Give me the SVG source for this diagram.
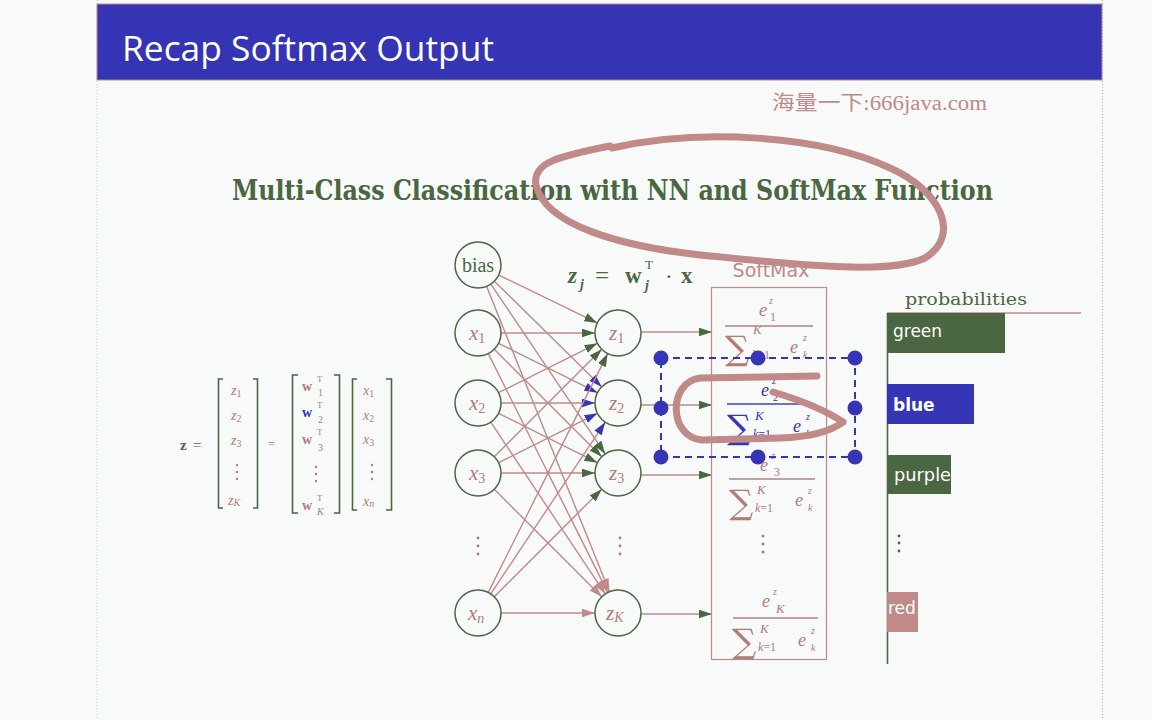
<svg xmlns="http://www.w3.org/2000/svg" width="1152" height="720" viewBox="0 0 1152 720">
  <style>
    .pk { fill: #b07c78; }
    .gr { fill: #4a6741; }
    .bl { fill: #3535b5; }
    .mi { font-family: "Liberation Serif", "DejaVu Serif", serif; font-style: italic; }
    .mr { font-family: "Liberation Serif", "DejaVu Serif", serif; }
    .sum { font-family: "DejaVu Serif", serif; font-size: 34px; }
    .node { fill: #f8f9f9; stroke: #4a6741; stroke-width: 1.5; }
    .edge { stroke: #c08a88; stroke-width: 1.4; fill: none; }
    .bar-t { font-family: "DejaVu Sans", sans-serif; font-size: 17px; fill: #ffffff; }
    .ink { fill: none; stroke: #c08a88; stroke-width: 7; stroke-linecap: round; stroke-linejoin: round; }
    .sel { fill: none; stroke: #3535b5; stroke-width: 2; stroke-dasharray: 7 5; }
    .brk { fill: none; stroke: #4a6741; stroke-width: 1.6; }
  </style>
  <defs>
    <marker id="ahG" viewBox="0 0 12 8" refX="12" refY="4" markerWidth="13" markerHeight="9" markerUnits="userSpaceOnUse" orient="auto">
      <path d="M0,0 L12,4 L0,8 z" fill="#4a6741"/>
    </marker>
    <marker id="ahB" viewBox="0 0 12 8" refX="12" refY="4" markerWidth="13" markerHeight="9" markerUnits="userSpaceOnUse" orient="auto">
      <path d="M0,0 L12,4 L0,8 z" fill="#3535b5"/>
    </marker>
    <marker id="ahP" viewBox="0 0 12 8" refX="12" refY="4" markerWidth="13" markerHeight="9" markerUnits="userSpaceOnUse" orient="auto">
      <path d="M0,0 L12,4 L0,8 z" fill="#c08a88"/>
    </marker>
    <clipPath id="redClip"><rect x="887" y="592" width="31" height="40"/></clipPath>
  </defs>

  <!-- page -->
  <rect x="0" y="0" width="1152" height="720" fill="#f8f9f9"/>
  <line x1="97" y1="0" x2="97" y2="720" stroke="#c08a88" stroke-width="1" stroke-dasharray="1 2" opacity="0.5"/>
  <line x1="1102.5" y1="0" x2="1102.5" y2="720" stroke="#c08a88" stroke-width="1" stroke-dasharray="1 2" opacity="0.7"/>

  <!-- title bar -->
  <g id="title">
    <rect x="97" y="4" width="1005" height="76" fill="#3434b4" stroke="#c08a88" stroke-width="1"/>
    <text x="122" y="61" font-family="Open Sans, DejaVu Sans, sans-serif" font-size="35" fill="#ffffff" textLength="372" lengthAdjust="spacingAndGlyphs">Recap Softmax Output</text>
  </g>

  <text id="watermark" x="772" y="110" font-family="Liberation Serif, Noto Sans CJK SC, serif" font-size="20" fill="#c08a88" textLength="215" lengthAdjust="spacingAndGlyphs">海量一下:666java.com</text>

  <text id="heading" x="232" y="200" font-family="DejaVu Serif, serif" font-weight="bold" font-size="27" fill="#4a6741" textLength="761" lengthAdjust="spacingAndGlyphs">Multi-Class Classification with NN and SoftMax Function</text>

  <!-- matrix form: z = W x -->
  <g id="matrix-eq" font-size="14">
    <text x="180" y="450" class="mr gr" font-weight="bold" font-size="15">z</text>
    <text x="193" y="450" class="mr gr" font-size="15">=</text>
    <!-- z vector -->
    <path class="brk" d="M223,379 H218.5 V508 H223 M253,379 H257.5 V508 H253"/>
    <text x="231" y="395" class="mi pk">z<tspan font-size="10" font-style="normal" dy="2">1</tspan></text>
    <text x="231" y="420" class="mi pk">z<tspan font-size="10" font-style="normal" dy="2">2</tspan></text>
    <text x="231" y="445" class="mi pk">z<tspan font-size="10" font-style="normal" dy="2">3</tspan></text>
    <g class="pk"><circle cx="237" cy="465" r="1.2"/><circle cx="237" cy="472" r="1.2"/><circle cx="237" cy="479" r="1.2"/></g>
    <text x="228" y="505" class="mi pk">z<tspan font-size="10" dy="1">K</tspan></text>
    <text x="268" y="448" class="mr pk" font-size="12">=</text>
    <!-- weight matrix -->
    <path class="brk" d="M298,375 H292.5 V513 H298 M334,375 H339.5 V513 H334"/>
    <text x="302" y="391" class="mr pk" font-weight="bold">w</text>
    <text x="317" y="382" class="mr pk" font-size="9">T</text>
    <text x="318" y="396" class="mr pk" font-size="10">1</text>
    <text x="302" y="417" class="mr bl" font-weight="bold">w</text>
    <text x="317" y="408" class="mr pk" font-size="9">T</text>
    <text x="318" y="423" class="mr pk" font-size="10">2</text>
    <text x="302" y="444" class="mr pk" font-weight="bold">w</text>
    <text x="317" y="435" class="mr pk" font-size="9">T</text>
    <text x="318" y="451" class="mr pk" font-size="10">3</text>
    <g class="pk"><circle cx="316" cy="467" r="1.2"/><circle cx="316" cy="474" r="1.2"/><circle cx="316" cy="481" r="1.2"/></g>
    <text x="302" y="510" class="mr pk" font-weight="bold">w</text>
    <text x="317" y="501" class="mr pk" font-size="9">T</text>
    <text x="317" y="515" class="mi pk" font-size="10">K</text>
    <!-- x vector -->
    <path class="brk" d="M357,379 H352.5 V510 H357 M386,379 H391.5 V510 H386"/>
    <text x="363" y="395" class="mi pk">x<tspan font-size="10" font-style="normal" dy="2">1</tspan></text>
    <text x="363" y="420" class="mi pk">x<tspan font-size="10" font-style="normal" dy="2">2</tspan></text>
    <text x="363" y="444" class="mi pk">x<tspan font-size="10" font-style="normal" dy="2">3</tspan></text>
    <g class="pk"><circle cx="372" cy="465" r="1.2"/><circle cx="372" cy="472" r="1.2"/><circle cx="372" cy="479" r="1.2"/></g>
    <text x="363" y="506" class="mi pk">x<tspan font-size="10" dy="1">n</tspan></text>
  </g>

  <!-- z_j = w_j^T . x -->
  <g id="zj-eq" class="gr">
    <text x="568" y="283" class="mi" font-size="23" font-weight="bold">z</text>
    <text x="580" y="289" class="mi" font-size="14" font-weight="bold">j</text>
    <text x="595" y="284" class="mr" font-size="25">=</text>
    <text x="625" y="283" class="mr" font-size="23" font-weight="bold">w</text>
    <text x="645" y="269" class="mr" font-size="13">T</text>
    <text x="645" y="290" class="mi" font-size="14" font-weight="bold">j</text>
    <text x="665" y="284" class="mr" font-size="23">·</text>
    <text x="681" y="283" class="mr" font-size="23" font-weight="bold">x</text>
  </g>

  <!-- connectors -->
  <g id="connectors">
    <!-- bias -->
    <line class="edge" x1="498.7" y1="275.05" x2="597.3" y2="322.95" marker-end="url(#ahG)"/>
    <line class="edge" x1="494.38" y1="281.15" x2="601.62" y2="386.85" marker-end="url(#ahB)"/>
    <line class="edge" x1="490.84" y1="284.08" x2="605.16" y2="453.92" marker-end="url(#ahG)"/>
    <line class="edge" x1="486.58" y1="286.34" x2="609.42" y2="591.66" marker-end="url(#ahP)"/>
    <!-- x1 -->
    <line class="edge" x1="501" y1="333" x2="595" y2="333" marker-end="url(#ahG)"/>
    <line class="edge" x1="498.57" y1="343.29" x2="597.43" y2="392.71" marker-end="url(#ahB)"/>
    <line class="edge" x1="494.26" y1="349.26" x2="601.74" y2="456.74" marker-end="url(#ahG)"/>
    <line class="edge" x1="488.29" y1="353.57" x2="607.71" y2="592.43" marker-end="url(#ahP)"/>
    <!-- x2 -->
    <line class="edge" x1="498.57" y1="392.71" x2="597.43" y2="343.29" marker-end="url(#ahG)"/>
    <line class="edge" x1="501" y1="403" x2="595" y2="403" marker-end="url(#ahB)"/>
    <line class="edge" x1="498.57" y1="413.29" x2="597.43" y2="462.71" marker-end="url(#ahG)"/>
    <line class="edge" x1="490.76" y1="422.14" x2="605.24" y2="593.86" marker-end="url(#ahP)"/>
    <!-- x3 -->
    <line class="edge" x1="494.26" y1="456.74" x2="601.74" y2="349.26" marker-end="url(#ahG)"/>
    <line class="edge" x1="498.57" y1="462.71" x2="597.43" y2="413.29" marker-end="url(#ahB)"/>
    <line class="edge" x1="501" y1="473" x2="595" y2="473" marker-end="url(#ahG)"/>
    <line class="edge" x1="494.26" y1="489.26" x2="601.74" y2="596.74" marker-end="url(#ahP)"/>
    <!-- xn -->
    <line class="edge" x1="488.29" y1="592.43" x2="607.71" y2="353.57" marker-end="url(#ahG)"/>
    <line class="edge" x1="490.76" y1="593.86" x2="605.24" y2="422.14" marker-end="url(#ahB)"/>
    <line class="edge" x1="494.26" y1="596.74" x2="601.74" y2="489.26" marker-end="url(#ahG)"/>
    <line class="edge" x1="501" y1="613" x2="595" y2="613" marker-end="url(#ahP)"/>
    <!-- z to softmax -->
    <line class="edge" x1="641" y1="332" x2="712" y2="332" marker-end="url(#ahG)"/>
    <line class="edge" x1="641" y1="405" x2="712" y2="405" marker-end="url(#ahG)"/>
    <line class="edge" x1="641" y1="475" x2="712" y2="475" marker-end="url(#ahG)"/>
    <line class="edge" x1="641" y1="614" x2="712" y2="614" marker-end="url(#ahG)"/>
  </g>

  <!-- input nodes -->
  <g id="node-bias"><circle class="node" cx="478" cy="265" r="23"/>
    <text x="478" y="272" text-anchor="middle" class="mr gr" font-size="20">bias</text></g>
  <g id="node-x1"><circle class="node" cx="478" cy="333" r="23"/>
    <text x="469" y="340" class="mi pk" font-size="21">x<tspan font-style="normal" font-size="14" dy="3">1</tspan></text></g>
  <g id="node-x2"><circle class="node" cx="478" cy="403" r="23"/>
    <text x="469" y="410" class="mi pk" font-size="21">x<tspan font-style="normal" font-size="14" dy="3">2</tspan></text></g>
  <g id="node-x3"><circle class="node" cx="478" cy="473" r="23"/>
    <text x="469" y="480" class="mi pk" font-size="21">x<tspan font-style="normal" font-size="14" dy="3">3</tspan></text></g>
  <g id="dots-x" class="pk"><circle cx="478" cy="538" r="1.4"/><circle cx="478" cy="546" r="1.4"/><circle cx="478" cy="554" r="1.4"/></g>
  <g id="node-xn"><circle class="node" cx="478" cy="613" r="23"/>
    <text x="468" y="620" class="mi pk" font-size="21">x<tspan font-size="14" dy="3">n</tspan></text></g>

  <!-- output nodes -->
  <g id="node-z1"><circle class="node" cx="618" cy="333" r="23"/>
    <text x="609" y="340" class="mi pk" font-size="21">z<tspan font-style="normal" font-size="14" dy="3">1</tspan></text></g>
  <g id="node-z2"><circle class="node" cx="618" cy="403" r="23"/>
    <text x="609" y="410" class="mi pk" font-size="21">z<tspan font-style="normal" font-size="14" dy="3">2</tspan></text></g>
  <g id="node-z3"><circle class="node" cx="618" cy="473" r="23"/>
    <text x="609" y="480" class="mi pk" font-size="21">z<tspan font-style="normal" font-size="14" dy="3">3</tspan></text></g>
  <g id="dots-z" class="pk"><circle cx="620" cy="538" r="1.4"/><circle cx="620" cy="546" r="1.4"/><circle cx="620" cy="554" r="1.4"/></g>
  <g id="node-zK"><circle class="node" cx="618" cy="613" r="23"/>
    <text x="606" y="620" class="mi pk" font-size="21">z<tspan font-size="14" dy="2">K</tspan></text></g>

  <!-- softmax block -->
  <g id="softmax">
    <text x="771" y="277" text-anchor="middle" font-family="DejaVu Sans, sans-serif" font-size="19" fill="#c08a88">SoftMax</text>
    <rect x="711.5" y="287.5" width="115" height="372" fill="none" stroke="#c08a88" stroke-width="1.2"/>

    <!-- class 1 -->
    <g class="pk">
      <text x="759" y="316" class="mi" font-size="18">e</text>
      <text x="769" y="304" class="mi" font-size="10">z</text>
      <text x="770" y="321" class="mr" font-size="12">1</text>
      <rect x="725" y="325.3" width="88" height="1.4"/>
      <text x="725" y="360" class="sum">∑</text>
      <text x="753" y="334" class="mi" font-size="13">K</text>
      <text x="752" y="359" class="mr" font-size="12"><tspan font-style="italic">k</tspan>=1</text>
      <text x="790" y="353" class="mi" font-size="18">e</text>
      <text x="803" y="341" class="mi" font-size="10">z</text>
      <text x="803" y="358" class="mi" font-size="10">k</text>
    </g>
    <!-- class 2 -->
    <g class="bl">
      <text x="761" y="396" class="mi" font-size="18">e</text>
      <text x="772" y="384" class="mi" font-size="10">z</text>
      <text x="773" y="401" class="mr" font-size="10">2</text>
      <rect x="727" y="403.3" width="86" height="1.4"/>
      <text x="727" y="439" class="sum">∑</text>
      <text x="755" y="420" class="mi" font-size="13">K</text>
      <text x="753" y="438" class="mr" font-size="12"><tspan font-style="italic">k</tspan>=1</text>
      <text x="793" y="432" class="mi" font-size="18">e</text>
      <text x="806" y="420" class="mi" font-size="10">z</text>
      <text x="806" y="437" class="mi" font-size="10">k</text>
    </g>
    <!-- class 3 -->
    <g class="pk">
      <text x="760" y="471" class="mi" font-size="18">e</text>
      <text x="771" y="459" class="mi" font-size="10">z</text>
      <text x="774" y="476" class="mr" font-size="12">3</text>
      <rect x="729" y="478.3" width="86" height="1.4"/>
      <text x="729" y="514" class="sum">∑</text>
      <text x="757" y="494" class="mi" font-size="13">K</text>
      <text x="755" y="512" class="mr" font-size="12"><tspan font-style="italic">k</tspan>=1</text>
      <text x="795" y="506" class="mi" font-size="18">e</text>
      <text x="808" y="494" class="mi" font-size="10">z</text>
      <text x="808" y="511" class="mi" font-size="10">k</text>
      <circle cx="763" cy="536" r="1.5"/><circle cx="763" cy="544" r="1.5"/><circle cx="763" cy="552" r="1.5"/>
    </g>
    <!-- class K -->
    <g class="pk">
      <text x="762" y="607" class="mi" font-size="18">e</text>
      <text x="773" y="595" class="mi" font-size="10">z</text>
      <text x="776" y="613" class="mi" font-size="13">K</text>
      <rect x="733" y="617.3" width="85" height="1.4"/>
      <text x="732" y="653" class="sum">∑</text>
      <text x="760" y="633" class="mi" font-size="13">K</text>
      <text x="758" y="651" class="mr" font-size="12"><tspan font-style="italic">k</tspan>=1</text>
      <text x="798" y="646" class="mi" font-size="18">e</text>
      <text x="811" y="634" class="mi" font-size="10">z</text>
      <text x="811" y="651" class="mi" font-size="10">k</text>
    </g>
  </g>

  <!-- probabilities chart -->
  <g id="probabilities">
    <text x="905" y="305" font-family="DejaVu Serif, serif" font-size="17" fill="#4a6741" textLength="122" lengthAdjust="spacingAndGlyphs">probabilities</text>
    <line x1="887" y1="313" x2="1081" y2="313" stroke="#c08a88" stroke-width="1.5"/>
    <line x1="887.5" y1="313" x2="887.5" y2="664" stroke="#4a6741" stroke-width="1.6"/>
    <g id="bar-green"><rect x="887" y="313" width="118" height="40" fill="#4a6741"/>
      <text x="893" y="337" class="bar-t">green</text></g>
    <g id="bar-blue"><rect x="887" y="384" width="87" height="40" fill="#3535b5"/>
      <text x="893" y="411" class="bar-t" font-weight="bold">blue</text></g>
    <g id="bar-purple"><rect x="887" y="455" width="64" height="39" fill="#4a6741"/>
      <text x="894" y="481" class="bar-t" textLength="57" lengthAdjust="spacingAndGlyphs">purple</text></g>
    <g fill="#4a6741"><circle cx="899" cy="536" r="1.4"/><circle cx="899" cy="543" r="1.4"/><circle cx="899" cy="551" r="1.4"/></g>
    <g id="bar-red"><rect x="887" y="592" width="31" height="40" fill="#c08a88"/>
      <text x="888" y="614" class="bar-t" clip-path="url(#redClip)">red</text></g>
  </g>

  <!-- selection handles around the second class -->
  <g id="selection">
    <rect class="sel" x="661" y="358" width="194" height="99"/>
    <g fill="#3535b5">
      <circle cx="661" cy="358" r="7.5"/><circle cx="758" cy="358" r="7.5"/><circle cx="855" cy="358" r="7.5"/>
      <circle cx="661" cy="408" r="7.5"/><circle cx="855" cy="408" r="7.5"/>
      <circle cx="661" cy="457" r="7.5"/><circle cx="758" cy="457" r="7.5"/><circle cx="855" cy="457" r="7.5"/>
    </g>
  </g>

  <!-- hand-drawn pen marks -->
  <g id="pen-marks">
    <path class="ink" d="M612,148 C700,128 820,135 890,168 C940,190 962,235 925,258 C890,275 800,265 700,255 C620,246 545,225 536,185 C532,162 560,156 610,146"/>
    <path class="ink" d="M773,392 C800,400 825,410 843,422 C830,432 810,437 780,438 L702,440 C668,437 668,382 700,378 L817,376"/>
  </g>
</svg>
